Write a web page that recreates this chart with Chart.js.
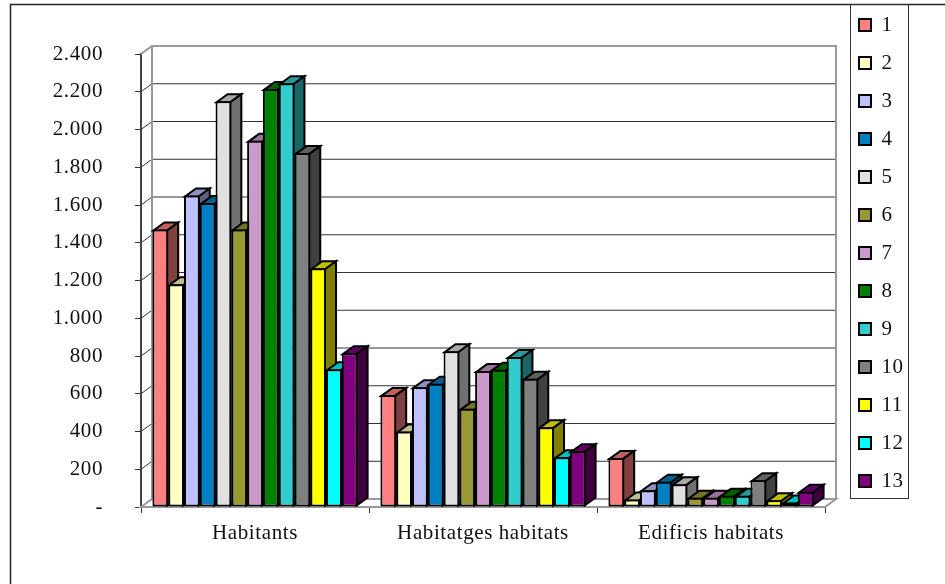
<!DOCTYPE html>
<html>
<head>
<meta charset="utf-8">
<style>
  html, body { margin: 0; padding: 0; background: #fff; overflow: hidden; }
  canvas { display: block; }
</style>
<script src="https://cdn.jsdelivr.net/npm/chart.js@4"></script>
</head>
<body>
<canvas id="Chart" width="945" height="584"></canvas>
<script>
// categories and legend names
const categories = ['Habitants', 'Habitatges habitats', 'Edificis habitats'];
const seriesNames = ['1', '2', '3', '4', '5', '6', '7', '8', '9', '10', '11', '12', '13'];
const tickLabels = ['-', '200', '400', '600', '800', '1.000', '1.200', '1.400', '1.600', '1.800', '2.000', '2.200', '2.400'];

// values per category, one per series
const habitants = [1470, 1180, 1650, 1610, 2150, 1470, 1940, 2215, 2245, 1875, 1265, 730, 815];
const habitatges = [594, 400, 635, 653, 825, 520, 720, 727, 795, 679, 423, 264, 296];
const edificis = [260, 40, 89, 134, 121, 49, 49, 59, 59, 142, 36, 24, 81];

const colors = ['#FF8080', '#FFFFC0', '#C0C0FF', '#0080C0', '#E0E0E0', '#999933', '#CC99CC',
  '#008000', '#33CCCC', '#808080', '#FFFF00', '#00FFFF', '#800080'];

// 3D depth of the walls and bars
const DX = 11;
const DY = 8;
const FONT = { family: '"Liberation Serif", serif', size: 21, lineHeight: 1.2 };
const SPACING = '0.6px';

function shade(hex, k) {
  const n = parseInt(hex.slice(1), 16);
  const r = Math.round((n >> 16 & 255) * k);
  const g = Math.round((n >> 8 & 255) * k);
  const b = Math.round((n & 255) * k);
  return 'rgb(' + r + ',' + g + ',' + b + ')';
}

function poly(ctx, pts, fill, stroke, width) {
  ctx.beginPath();
  pts.forEach((p, i) => i ? ctx.lineTo(p[0], p[1]) : ctx.moveTo(p[0], p[1]));
  ctx.closePath();
  if (fill) { ctx.fillStyle = fill; ctx.fill(); }
  if (stroke) { ctx.strokeStyle = stroke; ctx.lineWidth = width; ctx.stroke(); }
}

// outer frame and legend frame
const framePlugin = {
  id: 'frame',
  beforeLayout(chart) { chart.ctx.letterSpacing = SPACING; },
  afterLayout(chart) {
    // the legend sits outside the plot, to the right
    const l = chart.legend;
    l.maxHeight = 600;
    l.maxWidth = 100;
    l.fit();
    l.left = 842;
    l.right = 908;
    l.top = -2.5;
    l.bottom = 600;
    l.adjustHitBoxes();
  },
  beforeDraw(chart) {
    const ctx = chart.ctx;
    ctx.letterSpacing = SPACING;
    ctx.save();
    ctx.strokeStyle = '#222';
    ctx.lineWidth = 1.5;
    ctx.strokeRect(10.5, 4.5, 1100, 1100);
    ctx.strokeStyle = '#333';
    ctx.lineWidth = 1;
    ctx.strokeRect(850.5, 4.5, 58, 494);
    ctx.restore();
  }
};

// back wall, side wall, floor, then the tops and sides of the bars
const depthPlugin = {
  id: 'depth',
  beforeDatasetsDraw(chart) {
    const ctx = chart.ctx;
    const x = chart.scales.x;
    const y = chart.scales.y;
    const zero = y.getPixelForValue(0);
    ctx.save();
    y.ticks.forEach(t => {
      const py = y.getPixelForValue(t.value);
      if (t.value === 0) return;
      ctx.strokeStyle = '#333';
      ctx.lineWidth = 1;
      ctx.beginPath();
      ctx.moveTo(x.left, py);
      ctx.lineTo(x.left + DX, py - DY);
      ctx.lineTo(x.right + DX, py - DY);
      ctx.stroke();
    });
    const top = y.getPixelForValue(2400);
    poly(ctx, [[x.left, zero], [x.left + DX, zero - DY], [x.right + DX, zero - DY], [x.right, zero]], '#fff', '#999', 2);
    ctx.strokeStyle = '#999';
    ctx.lineWidth = 2;
    ctx.beginPath();
    ctx.moveTo(x.left, top);
    ctx.lineTo(x.left + DX, top - DY);
    ctx.lineTo(x.right + DX, top - DY);
    ctx.lineTo(x.right + DX, zero - DY);
    ctx.moveTo(x.left + DX, top - DY);
    ctx.lineTo(x.left + DX, zero - DY);
    ctx.stroke();

    categories.forEach((c, ci) => {
      chart.data.datasets.forEach((ds, di) => {
        const bar = chart.getDatasetMeta(di).data[ci];
        const l = bar.x - bar.width / 2 + 1;
        const r = bar.x + bar.width / 2 - 1;
        const t = bar.y + 1;
        const b = bar.base - 1;
        poly(ctx, [[l, t], [l + DX, t - DY], [r + DX, t - DY], [r, t]], shade(colors[di], 0.75), '#000', 2);
        poly(ctx, [[r, t], [r + DX, t - DY], [r + DX, b - DY], [r, b]], shade(colors[di], 0.5), '#000', 2);
      });
    });
    ctx.restore();
  }
};

const ctx = document.getElementById('Chart');
new Chart(ctx, {
  type: 'bar',
  data: {
    labels: categories,
    datasets: seriesNames.map((name, i) => ({
      label: name,
      data: [habitants[i], habitatges[i], edificis[i]],
      backgroundColor: colors[i],
      borderColor: '#000',
      borderWidth: 2,
      borderSkipped: false
    }))
  },
  options: {
    responsive: false,
    animation: false,
    layout: { padding: { left: 0, top: 54, right: 120, bottom: 0 } },
    datasets: { bar: { categoryPercentage: 0.9, barPercentage: 1 } },
    scales: {
      x: {
        afterFit(s) { s.height = 77; },
        border: { color: '#333', width: 1 },
        grid: { drawOnChartArea: false, drawTicks: true, tickLength: 6, color: '#333' },
        ticks: { color: '#111', font: FONT, padding: 8, maxRotation: 0 }
      },
      y: {
        min: 0,
        max: 2400,
        afterFit(s) { s.width = 141; },
        border: { color: '#444', width: 2 },
        grid: { drawOnChartArea: false, drawTicks: true, tickLength: 6, color: '#333' },
        ticks: {
          stepSize: 200,
          color: '#111',
          font: FONT,
          padding: 32,
          callback: (v, i) => tickLabels[i]
        }
      }
    },
    plugins: {
      tooltip: { enabled: false },
      title: { display: false },
      legend: {
        position: 'chartArea',
        align: 'start',
        labels: {
          boxWidth: 12,
          boxHeight: 12,
          padding: 17,
          color: '#111',
          font: FONT
        }
      }
    }
  },
  plugins: [framePlugin, depthPlugin]
});
</script>
</body>
</html>
